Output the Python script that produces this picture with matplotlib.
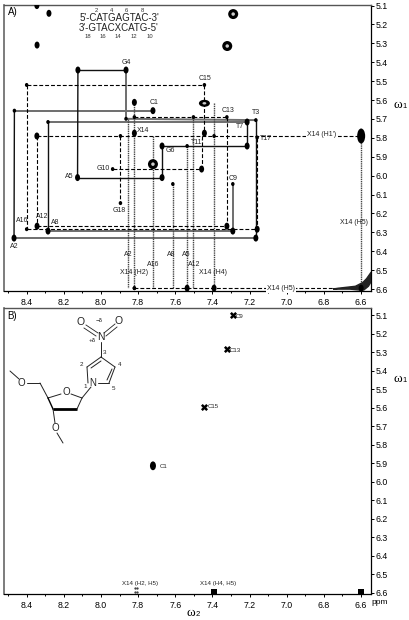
"""
2D NOESY spectrum (A) and COSY type spectrum with nucleoside sketch (B)
"""
import matplotlib
matplotlib.use("Agg")
import matplotlib.pyplot as plt
from matplotlib.patches import Ellipse
import numpy as np

plt.rcParams['font.family'] = ['Liberation Sans', 'DejaVu Sans']

# ---- panel A cross peaks, (w2, w1) in ppm
ring_x = [7.288, 7.32, 7.72]
ring_y = [5.145, 5.314, 5.939]

wide_x = [7.443]
wide_y = [5.617]

tall_x = [6.599]
tall_y = [5.79]

mid_x = [8.345, 8.28, 8.344, 8.124, 7.865, 7.72, 8.126, 7.671, 7.213, 7.671, 7.82, 7.82, 8.345, 7.458, 7.443,
         7.213, 7.322, 7.29, 7.159, 7.166, 8.468, 8.285, 8.344, 7.391, 6.599, 7.536]
mid_y = [5.10, 5.141, 5.309, 5.441, 5.441, 5.656, 6.01, 6.01, 5.716, 5.843, 5.612, 5.775, 5.79, 5.965, 5.775,
         5.843, 6.267, 6.293, 6.283, 6.33, 6.33, 6.293, 6.267, 6.595, 6.595, 6.595]

small_x = [8.466, 8.40, 8.285, 7.82, 7.82, 7.502, 7.443, 7.322, 7.166, 7.159, 7.937, 7.895, 7.613, 7.29, 8.40,
           7.895, 7.671, 7.536, 7.391, 7.82, 7.865]
small_y = [5.656, 5.52, 5.716, 5.69, 6.595, 5.69, 5.52, 5.69, 5.706, 5.798, 5.965, 6.145, 6.044, 6.044, 6.283,
           5.79, 5.843, 5.843, 5.79, 6.595, 5.699]

# spectrum connectivity walks, each one is (w2 values, w1 values)
solid_black = [
    ([8.124, 7.865], [5.441, 5.441]),
    ([8.126, 8.124], [6.01, 5.441]),
    ([8.126, 7.671], [6.01, 6.01]),
    ([7.671, 7.671], [6.01, 5.843]),
    ([7.671, 7.213], [5.843, 5.843]),
    ([7.213, 7.213], [5.716, 5.843]),
    ([8.285, 8.285], [5.716, 6.293]),
    ([7.166, 7.166], [5.706, 6.33]),
    ([8.466, 8.468], [5.656, 6.33]),
]
solid_gray = [
    ([8.466, 7.72], [5.656, 5.656]),
    ([7.865, 7.865], [5.441, 5.699]),
    ([7.865, 7.166], [5.699, 5.706]),
    ([8.283, 7.213], [5.716, 5.716]),
    ([8.468, 7.166], [6.33, 6.33]),
    ([8.285, 7.29], [6.293, 6.293]),
    ([7.29, 7.29], [6.044, 6.293]),
]
dashed = [
    ([8.40, 7.443], [5.52, 5.52]),
    ([8.40, 8.40], [5.52, 6.283]),
    ([8.40, 7.159], [6.283, 6.283]),
    ([7.443, 7.443], [5.52, 5.775]),
    ([8.345, 6.599], [5.79, 5.79]),
    ([8.344, 8.344], [5.79, 6.267]),
    ([8.344, 7.322], [6.267, 6.267]),
    ([7.322, 7.322], [5.69, 6.267]),
    ([7.82, 7.322], [5.69, 5.69]),
    ([7.895, 7.895], [5.79, 6.145]),
    ([7.937, 7.458], [5.965, 5.965]),
    ([7.458, 7.458], [5.79, 5.965]),
    ([7.159, 7.159], [5.798, 6.283]),
    ([7.82, 6.60], [6.595, 6.595]),
]
dotted = [
    ([7.852, 7.852], [5.70, 6.595]),
    ([7.82, 7.82], [5.612, 6.595]),
    ([7.72, 7.72], [5.79, 6.595]),
    ([7.613, 7.613], [6.044, 6.595]),
    ([7.536, 7.536], [5.843, 6.595]),
    ([7.502, 7.502], [5.69, 6.595]),
    ([7.391, 7.391], [5.617, 6.595]),
    ([6.599, 6.599], [5.79, 6.595]),
]

# diagonal at the corner
diag_x = [6.75, 6.66, 6.61, 6.585, 6.56, 6.545, 6.545, 6.57, 6.59, 6.63, 6.72]
diag_y = [6.60, 6.60, 6.605, 6.605, 6.585, 6.56, 6.51, 6.545, 6.565, 6.585, 6.595]

# ---- panel B peaks
cross_x = [7.29, 7.32, 7.443]
cross_y = [5.10, 5.285, 5.595]
c1_x = [7.72]
c1_y = [5.915]
edge_x = [7.39, 6.599]
edge_y = [6.595, 6.595]

ticks_y = [5.1, 5.2, 5.3, 5.4, 5.5, 5.6, 5.7, 5.8, 5.9, 6.0, 6.1, 6.2, 6.3, 6.4, 6.5, 6.6]
ticks_x = [8.4, 8.2, 8.0, 7.8, 7.6, 7.4, 7.2, 7.0, 6.8, 6.6]
minor_x = [8.5, 8.3, 8.1, 7.9, 7.7, 7.5, 7.3, 7.1, 6.9, 6.7]

# labels, (px x, px y, text)
a_labels = [
    (126, 62, 'G4'), (154, 102, 'C1'), (205, 78, 'C15'), (228, 110, 'C13'), (256, 112, 'T3'),
    (240, 127, 'T7'), (266, 138, 'T17'), (143, 130, 'X14'), (197, 142, "T11'"), (170, 151, 'G6'),
    (69, 177, 'A5'), (103, 169, 'G10'), (119, 211, 'G18'), (22, 221, 'A16'), (42, 217, 'A12'),
    (55, 222, 'A8'), (14, 247, 'A2'), (233, 178, 'C9'), (128, 255, 'A2'), (153, 264, 'A16'),
    (171, 255, 'A8'), (186, 255, 'A5'), (194, 264, 'A12'), (134, 272, 'X14 (H2)'),
    (213, 272, 'X14 (H4)'), (354, 222, 'X14 (H5)'),
]
a_white_labels = [(322, 134, "X14 (H1')"), (281, 288, 'X14 (H5)')]
b_labels = [(240, 316, 'C9'), (235, 350, 'C13'), (213, 407, 'C15'), (164, 466, 'C1'),
            (140, 584, 'X14 (H2, H5)'), (218, 584, 'X14 (H4, H5)')]

fig = plt.figure(figsize=(4.09, 6.20), dpi=100)
W, H = 409.0, 620.0


def make_axes(top, bottom, ylim):
    ax = fig.add_axes([4 / W, 1 - bottom / H, 367 / W, (bottom - top) / H])
    ax.set_xlim(8.522, 6.546)
    ax.set_ylim(*ylim)
    ax.yaxis.tick_right()
    ax.set_yticks(ticks_y)
    ax.set_yticklabels(['%.1f' % t for t in ticks_y])
    ax.set_xticks(ticks_x)
    ax.set_xticklabels(['%.1f' % t for t in ticks_x])
    ax.set_xticks(minor_x, minor=True)
    ax.tick_params(axis='both', which='major', labelsize=6.3, length=2, width=0.7, pad=1.5)
    ax.tick_params(axis='x', which='major', pad=3)
    ax.tick_params(axis='x', which='minor', length=1.5, width=0.7)
    ax.spines['left'].set_color('#666666')
    ax.spines['left'].set_linewidth(1.2)
    ax.spines['top'].set_color('#555555')
    ax.spines['top'].set_linewidth(1.0)
    ax.spines['right'].set_linewidth(0.9)
    ax.spines['bottom'].set_linewidth(0.9)
    return ax


def peaks(ax, xs, ys, w, h, ring=False):
    # w, h in px
    for x, y in zip(xs, ys):
        ax.add_patch(Ellipse((x, y), w / 185.6, h / 189.0, fc='black', ec='none', zorder=5))
        if ring:
            ax.add_patch(Ellipse((x, y), w * 0.35 / 185.6, h * 0.35 / 189.0, fc='#cccccc', ec='none', zorder=6))


ax_a = make_axes(5, 291, (6.61, 5.097))
for xs, ys in solid_gray:
    ax_a.plot(xs, ys, color='#6e6e6e', lw=1.4, zorder=2)
for xs, ys in solid_black:
    ax_a.plot(xs, ys, color='#111111', lw=1.0, zorder=3)
for xs, ys in dashed:
    ax_a.plot(xs, ys, color='black', lw=0.8, ls=(0, (3.5, 1.8)), zorder=3)
for xs, ys in dotted:
    ax_a.plot(xs, ys, color='#444444', lw=1.0, ls=(0, (1, 0.6)), zorder=2)
ax_a.fill(diag_x, diag_y, color='#222222', zorder=4)

peaks(ax_a, ring_x, ring_y, 10, 10, ring=True)
peaks(ax_a, wide_x, wide_y, 11, 7, ring=True)
peaks(ax_a, tall_x, tall_y, 8, 15)
peaks(ax_a, mid_x, mid_y, 5, 7)
peaks(ax_a, small_x, small_y, 3.5, 4)

ax_b = make_axes(308, 594, (6.608, 5.062))
ax_b.scatter(cross_x, cross_y, s=26, c='black', marker='X', linewidths=0, zorder=4)
ax_b.scatter(edge_x, edge_y, s=20, c='black', marker='s', linewidths=0, zorder=4)
peaks(ax_b, c1_x, c1_y, 6, 9)
ax_b.plot([7.815, 7.815, 7.805, 7.805], [6.575, 6.595, 6.595, 6.575], ls='none', marker='.', ms=1.2, color='#333333')

# overlay in figure pixels for the text and the sketch
ov = fig.add_axes([0, 0, 1, 1], facecolor='none')
ov.set_xlim(0, W)
ov.set_ylim(H, 0)
ov.axis('off')
for x, y, s in a_labels:
    ov.text(x, y, s, fontsize=5, ha='center', va='center', color='#222222')
for x, y, s in a_white_labels:
    ov.text(x, y, s, fontsize=5, ha='center', va='center', color='#222222',
            bbox=dict(fc='white', ec='none', pad=1.0))
for x, y, s in b_labels:
    ov.text(x, y, s, fontsize=4.4, ha='center', va='center', color='#222222')

ov.text(13, 12, 'A)', fontsize=7, ha='center', va='center')
ov.text(12, 316, 'B)', fontsize=7, ha='center', va='center')
ov.text(119, 18, "5'-CATGAGTAC-3'", fontsize=7, ha='center', va='center', color='#222222')
ov.text(119, 28, "3'-GTACXCATG-5'", fontsize=7, ha='center', va='center', color='#222222')
for x, s in zip([96, 111, 126, 142], ['2', '4', '6', '8']):
    ov.text(x, 11, s, fontsize=4.2, ha='center', va='center', color='#333333')
for x, s in zip([88, 103, 118, 134, 150], ['18', '16', '14', '12', '10']):
    ov.text(x, 36, s, fontsize=4.2, ha='center', va='center', color='#333333')

for x, y, s in [(402, 105, '1'), (402, 379, '1'), (195, 613, '2')]:
    ov.text(x, y, '\u03c9', fontsize=9.5, family='Liberation Serif', ha='right', va='center')
    ov.text(x + 0.5, y + 2, s, fontsize=5.5, ha='left', va='center')
ov.text(380, 603, 'ppm', fontsize=6, ha='center', va='center')

# nucleoside sketch, coordinates in px of the panel
bonds = [
    ((101, 342), (101, 357)),   # N-C3
    ((101, 357), (115, 367)), ((115, 367), (109, 383)), ((109, 383), (98, 383)),
    ((88, 383), (87, 367)), ((87, 367), (101, 357)),
    ((101, 361), (91, 368)), ((112, 369), (107, 380)),
    ((91, 387), (82, 398)),
    ((82, 398), (71, 394)), ((61, 394), (48, 398)), ((48, 398), (40, 383)), ((40, 383), (27, 383)),
    ((19, 379), (10, 371)), ((53, 409), (55, 423)), ((57, 433), (63, 443)),
]
for a, b in bonds:
    ov.plot([a[0], b[0]], [a[1], b[1]], color='#222222', lw=0.7, solid_capstyle='round')
ov.plot([53, 77], [409, 409], color='black', lw=2.0, solid_capstyle='butt')
ov.plot([48, 53], [398, 409], color='black', lw=1.0)
ov.plot([77, 82], [409, 398], color='#222222', lw=0.7)
for a, b in [((86, 325), (98, 333)), ((84, 328), (96, 336)), ((115, 324), (104, 333)), ((117, 327), (106, 336))]:
    ov.plot([a[0], b[0]], [a[1], b[1]], color='#222222', lw=0.6)

for x, y, s, fs in [(81, 322, 'O', 7.5), (119, 321, 'O', 7.5), (101, 337, 'N', 7.5), (93, 383, 'N', 7),
                    (66, 392, 'O', 7), (21, 383, 'O', 7), (55, 428, 'O', 7),
                    (99, 320, '\u2212\u03b4', 4.5), (92, 341, '+\u03b4', 4.5), (105, 353, '3', 4.5),
                    (81, 365, '2', 4.5), (120, 365, '4', 4.5), (113, 388, '5', 4.5), (85, 386, '1', 4.5)]:
    ov.text(x, y, s, fontsize=fs, ha='center', va='center', color='#222222')

fig.savefig('out.png', dpi=100)
